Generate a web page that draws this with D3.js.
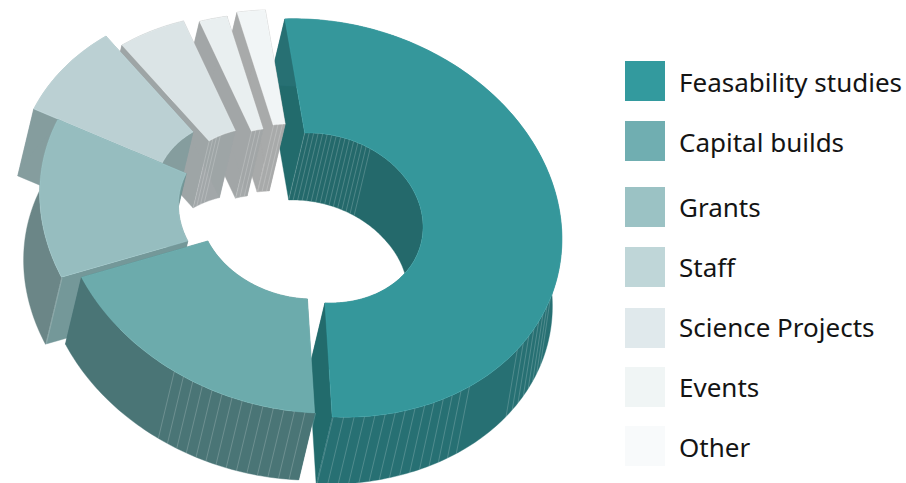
<!DOCTYPE html>
<html>
<head>
<meta charset="utf-8">
<script src="https://cdn.jsdelivr.net/npm/d3@7"></script>
<style>
  html, body { margin: 0; padding: 0; background: #fff; }
  svg { display: block; }
  text { font-family: "Noto Sans", sans-serif; fill: #141414; }
</style>
</head>
<body>
<svg id="chart" width="906" height="483"></svg>
<script>
// Budget categories and their shares of the total, in percent
const categories = ["Feasability studies", "Capital builds", "Grants", "Staff", "Science Projects", "Events", "Other"];
const shares = [51.4, 19, 13, 8, 4.7, 1.9, 1.9];

// Legend swatches
const legendColors = ["#339a9e", "#70aeb1", "#9bc2c4", "#bfd6d8", "#e0e9ec", "#f0f5f5", "#f8fafb"];
const legendSwatchTops = [61, 121, 187, 247, 308, 367, 426];
const legendBaselines = [92, 152, 217, 277, 337, 397, 457];

// Surface colours per slice
const topColors = ["#35979b", "#6cabac", "#96bdbf", "#bbd0d3", "#dbe4e6", "#e9eff0", "#f1f5f6"];
const outerWallColors = ["#277073", "#4a7576", "#6b8687", "#859d9e", "#9ea5a6", "#a2a6a7", "#a8aaaa"];
const faceColors = ["#226b6c", "#4a7576", "#749899", "#859d9e", "#9ea5a6", "#a2a6a7", "#a8aaaa"];
const innerWallColors = ["#24696b", "#4a7576", "#6b8687", "#869e9f", "#a2a7a9", "#a5a9aa", "#a8aaaa"];

// Where each exploded slice's own centre lands on the page
const sliceCentres = [[319.5, 218], [302, 214], [282, 214], [258, 203.5], [274, 212.5], [290, 213], [300, 209]];

// Ring projection: semi-axes in pixels, tilt of the major axis, extrusion vector
const semiMajor = 245, semiMinor = 196, tilt = 14 * Math.PI / 180;
const extrude = [-16, 67];
const extrudeDrift = 0.04;      // the depth lean eases off towards the far right of the ring
const driftFromX = 400;
const innerRadius = 0.427, outerRadius = 1;
const startDeg = -19.5;

// Groups of render seams on the walls: slice, wall, from angle, to angle (degrees)
const seamStep = 2.5;
const seamRuns = [
  [0, "outer", 165.5, 130], [0, "outer", 114, 95],
  [0, "inner", -19.5, 20],
  [1, "outer", 165.5, 201.5],
  [2, "outer", 233.9, 233.9],
  [4, "inner", 310, 318], [5, "inner", 327, 333], [6, "inner", 334, 340]
];

const rad = d => d * Math.PI / 180;
const u = [Math.cos(tilt), Math.sin(tilt)], v = [-Math.sin(tilt), Math.cos(tilt)];

const pie = d3.pie().sort(null).value(d => d)
  .startAngle(rad(startDeg)).endAngle(rad(startDeg + 360));
const slices = pie(shares);

// Maps a ring position (angle clockwise from the back, radius, depth 0..1) onto the page
function project(i, angle, r, depth) {
  const c = sliceCentres[i];
  const p = r * semiMajor * Math.sin(angle), q = -r * semiMinor * Math.cos(angle);
  const x = c[0] + p * u[0] + q * v[0], y = c[1] + p * u[1] + q * v[1];
  const lean = extrude[0] + Math.max(0, x - driftFromX) * extrudeDrift;
  return [x + depth * lean, y + depth * extrude[1]];
}

const arcPoints = (i, a0, a1, r, depth) => {
  const n = Math.max(2, Math.ceil(Math.abs(a1 - a0) / rad(1)));
  return d3.range(n + 1).map(k => project(i, a0 + (a1 - a0) * k / n, r, depth));
};

const closed = d3.line().curve(d3.curveLinearClosed);
const open = d3.line();
const svg = d3.select("#chart");

function drawSlice(i) {
  const s = slices[i], a0 = s.startAngle, a1 = s.endAngle;
  const g = svg.append("g").attr("class", "slice");
  const paint = (pts, fill) => g.append("path").attr("d", closed(pts))
    .attr("fill", fill).attr("stroke", fill).attr("stroke-width", 0.4);

  // inner wall
  paint([...arcPoints(i, a0, a1, innerRadius, 0), ...arcPoints(i, a1, a0, innerRadius, 1)], innerWallColors[i]);
  // cut faces at both ends
  [a0, a1].forEach(a => paint([project(i, a, outerRadius, 0), project(i, a, innerRadius, 0),
                               project(i, a, innerRadius, 1), project(i, a, outerRadius, 1)], faceColors[i]));
  // outer wall
  paint([...arcPoints(i, a0, a1, outerRadius, 0), ...arcPoints(i, a1, a0, outerRadius, 1)], outerWallColors[i]);

  // seams running down the walls
  seamRuns.filter(run => run[0] === i).forEach(run => {
    const dir = run[3] >= run[2] ? 1 : -1;
    const count = Math.floor(Math.abs(run[3] - run[2]) / seamStep);
    d3.range(count + 1).forEach(k => {
      const a = rad(run[2] + dir * k * seamStep);
      const r = run[1] === "outer" ? outerRadius : innerRadius;
      g.append("path").attr("d", open([project(i, a, r, 0), project(i, a, r, 1)]))
        .attr("fill", "none").attr("stroke", "#fff").attr("stroke-opacity", 0.28).attr("stroke-width", 0.7);
    });
  });

  // top surface
  g.append("path")
    .attr("d", closed([...arcPoints(i, a0, a1, outerRadius, 0), ...arcPoints(i, a1, a0, innerRadius, 0)]))
    .attr("fill", topColors[i]).attr("stroke", d3.color(topColors[i]).brighter(0.4)).attr("stroke-width", 0.35);
}

// Paint order keeps nearer slices over the cut faces of their neighbours
[0, 6, 5, 4, 3, 2, 1].forEach(drawSlice);

// Legend
const legend = svg.append("g").attr("class", "legend");
legend.selectAll("rect").data(categories).join("rect")
  .attr("x", 625).attr("y", (d, i) => legendSwatchTops[i])
  .attr("width", 40).attr("height", 40)
  .attr("fill", (d, i) => legendColors[i]);
legend.selectAll("text").data(categories).join("text")
  .attr("x", 679).attr("y", (d, i) => legendBaselines[i])
  .attr("font-size", 26)
  .text(d => d);
</script>
</body>
</html>
